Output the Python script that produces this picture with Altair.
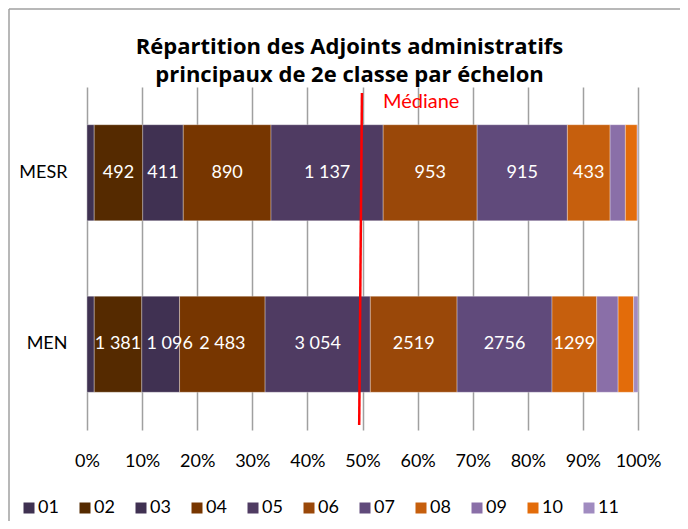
import altair as alt
import pandas as pd

# ---- data ----
echelons = ["01", "02", "03", "04", "05", "06", "07", "08", "09", "10", "11"]
orgs = ["MESR", "MEN"]
mesr_counts = [73, 492, 411, 890, 1137, 953, 915, 433, 155, 120, 8]
men_counts = [210, 1381, 1096, 2483, 3054, 2519, 2756, 1299, 620, 450, 127]
mesr_labels = ["", "492", "411", "890", "1 137", "953", "915", "433", "", "", ""]
men_labels = ["", "1 381", "1 096", "2 483", "3 054", "2519", "2756", "1299", "", "", ""]
colors = ["#3f3151", "#552a00", "#403152", "#773600", "#4f3b62", "#9a4809",
          "#604a7b", "#c65f0d", "#8a6fa8", "#e36c0a", "#a08bc0"]
x_ticks = [0.0, 0.1, 0.2, 0.3, 0.4, 0.5, 0.6, 0.7, 0.8, 0.9, 1.0]
median_top = 0.499
median_bottom = 0.494
median_text = "Médiane"
shifted_label = "1 096"
title_lines = ["Répartition des Adjoints administratifs",
               "principaux de 2e classe par échelon"]

rows = []
for org, counts, labels in [("MESR", mesr_counts, mesr_labels), ("MEN", men_counts, men_labels)]:
    for e, c, l in zip(echelons, counts, labels):
        rows.append({"org": org, "ech": e, "count": c, "label": l})
df = pd.DataFrame(rows)
med_df = pd.DataFrame({"top": [median_top], "bottom": [median_bottom], "txt": [median_text]})

FONT = "Lato"

base = alt.Chart(df).transform_stack(
    stack="count", groupby=["org"], as_=["x0", "x1"], offset="normalize",
    sort=[alt.SortField("ech", order="ascending")],
).transform_calculate(mid="(datum.x0 + datum.x1) / 2")

x_scale = alt.Scale(domain=[0, 1], nice=False, zero=True)
y_enc = alt.Y("org:N", sort=orgs,
              scale=alt.Scale(paddingInner=0.44, paddingOuter=0.22),
              axis=alt.Axis(title=None, ticks=False, domain=False, labelPadding=20,
                            labelFont=FONT, labelFontSize=18, labelColor="#000000"))

bars = base.mark_bar(stroke="#ffffff", strokeWidth=0.7, strokeOpacity=0.45).encode(
    x=alt.X("x0:Q", scale=x_scale,
            axis=alt.Axis(values=x_ticks, format="%", title=None, grid=True,
                          gridColor="#a0a0a0", gridWidth=1.5, ticks=False, domain=False,
                          labelOverlap=False, labelFlush=False,
                          labelPadding=22, labelFont=FONT, labelFontSize=18,
                          labelColor="#000000")),
    x2="x1:Q",
    y=y_enc,
    color=alt.Color("ech:N", scale=alt.Scale(domain=echelons, range=colors),
                    legend=alt.Legend(title=None, orient="none", direction="horizontal",
                                      columns=11, legendX=-67, legendY=412, padding=0,
                                      symbolType="square", symbolSize=121,
                                      symbolStrokeWidth=0, labelOffset=0,
                                      columnPadding=17, labelFont=FONT,
                                      labelFontSize=18, labelColor="#000000")),
)

labels = base.transform_filter(alt.datum.label != shifted_label).mark_text(
    color="#ffffff", font=FONT, fontSize=18, baseline="middle"
).encode(x=alt.X("mid:Q", scale=x_scale), y=alt.Y("org:N", sort=orgs), text="label:N")

labels_shift = base.transform_filter(alt.datum.label == shifted_label).mark_text(
    color="#ffffff", font=FONT, fontSize=18, baseline="middle", dx=9
).encode(x=alt.X("mid:Q", scale=x_scale), y=alt.Y("org:N", sort=orgs), text="label:N")

median = alt.Chart(med_df).mark_rule(color="#ff0000", strokeWidth=2.5).encode(
    x=alt.X("top:Q", scale=x_scale), x2="bottom:Q",
    y=alt.value(6), y2=alt.value(338),
)
median_lbl = alt.Chart(med_df).mark_text(
    color="#ff0000", font=FONT, fontSize=20, align="left", baseline="middle", dx=21
).encode(x=alt.X("top:Q", scale=x_scale), y=alt.value(15), text="txt:N")

one = alt.Data(values=[{"k": 1}])
frame_left = alt.Chart(one).mark_rule(color="#a0a0a0", strokeWidth=1.5).encode(
    x=alt.value(-78), y=alt.value(-78), y2=alt.value(440))
frame_top = alt.Chart(one).mark_rule(color="#a0a0a0", strokeWidth=1.5).encode(
    x=alt.value(-78), x2=alt.value(620), y=alt.value(-78))

chart = alt.layer(frame_left, frame_top, bars, labels, labels_shift, median, median_lbl).properties(
    width=551, height=343,
    autosize=alt.AutoSizeParams(type="none"),
    padding={"left": 79, "top": 79, "right": 42, "bottom": 91},
    title=alt.TitleParams(text=title_lines, anchor="middle", frame="group",
                          font="Open Sans", fontSize=22, fontWeight="bold", color="#000000",
                          lineHeight=28, dx=-13, offset=8, dy=87),
).configure_view(stroke=None)

chart.save("out.html", embed_options={"renderer": "svg", "actions": False})
